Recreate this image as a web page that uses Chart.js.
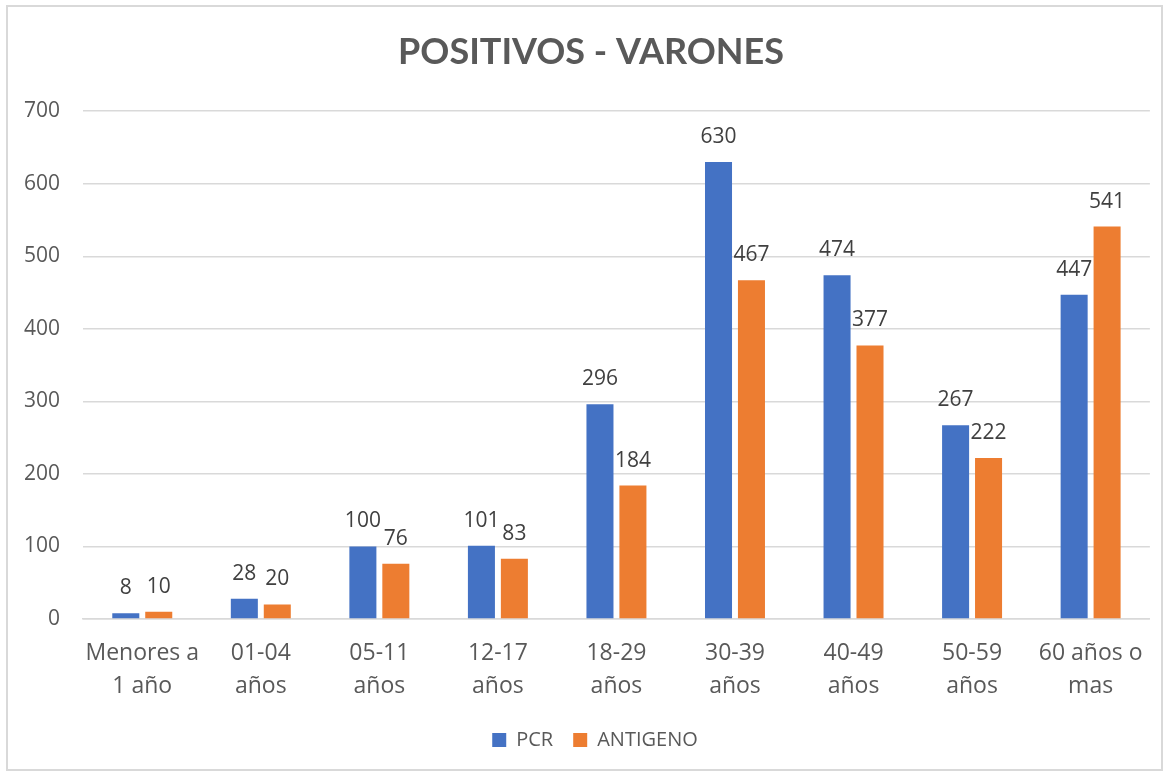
<!DOCTYPE html>
<html>
<head>
<meta charset="utf-8">
<script src="https://cdn.jsdelivr.net/npm/chart.js@4"></script>
<style>
  html, body { margin: 0; padding: 0; background: #fff; }
  #wrap { position: absolute; left: 6px; top: 5px; width: 1157px; height: 766px; box-sizing: border-box; border: 2px solid #d9d9d9; background: #fff; }
  canvas { display: block; }
</style>
</head>
<body>
<div id="wrap"><canvas id="c" width="1153" height="762"></canvas></div>
<script>
const categories = [["Menores a","1 año"],["01-04","años"],["05-11","años"],["12-17","años"],["18-29","años"],["30-39","años"],["40-49","años"],["50-59","años"],["60 años o","mas"]];
const pcrValues = [8, 28, 100, 101, 296, 630, 474, 267, 447];
const antigenoValues = [10, 20, 76, 83, 184, 467, 377, 222, 541];
const seriesNames = ["PCR", "ANTIGENO"];
const chartTitle = "POSITIVOS - VARONES";

const FONT = "'Open Sans', Lato, sans-serif";
const TITLE_FONT = "Lato, 'Open Sans', sans-serif";

const dataLabels = {
  id: 'dataLabels',
  afterDatasetsDraw(chart) {
    const ctx = chart.ctx;
    ctx.save();
    ctx.font = "21px " + FONT;
    ctx.fillStyle = "#404040";
    ctx.textAlign = "center";
    ctx.textBaseline = "middle";
    chart.data.datasets.forEach((ds, i) => {
      const meta = chart.getDatasetMeta(i);
      meta.data.forEach((bar, j) => {
        ctx.fillText(String(ds.data[j]), bar.x, bar.y - 25);
      });
    });
    ctx.restore();
  }
};

const shiftBlocks = {
  id: 'shiftBlocks',
  afterLayout(chart) {
    if (chart.legend) { chart.legend.left += 15; chart.legend.right += 15; }
    if (chart.titleBlock) { chart.titleBlock.left += 11; chart.titleBlock.right += 11; }
  }
};

new Chart(document.getElementById('c'), {
  type: 'bar',
  data: {
    labels: categories,
    datasets: [
      { label: seriesNames[0], data: pcrValues, backgroundColor: '#4472C4', categoryPercentage: 0.556, barPercentage: 0.82 },
      { label: seriesNames[1], data: antigenoValues, backgroundColor: '#ED7D31', categoryPercentage: 0.556, barPercentage: 0.82 }
    ]
  },
  options: {
    responsive: false,
    animation: false,
    layout: { padding: { left: 0, right: 9, top: 0, bottom: 9 } },
    plugins: {
      title: {
        display: true, text: chartTitle, color: '#595959',
        font: { family: TITLE_FONT, size: 36, weight: 'bold', lineHeight: 1.2 },
        padding: { top: 24, bottom: 37 }
      },
      legend: {
        position: 'bottom',
        labels: {
          color: '#595959', boxWidth: 14, boxHeight: 14, padding: 20,
          font: { family: FONT, size: 20 }
        }
      },
      tooltip: { enabled: false }
    },
    scales: {
      y: {
        min: 0, max: 700,
        ticks: { stepSize: 100, color: '#595959', font: { family: FONT, size: 21 }, padding: 23 },
        grid: { color: '#d9d9d9', lineWidth: 1.5, drawTicks: false },
        border: { display: false },
        afterFit(s) { s.width = 75; }
      },
      x: {
        ticks: { color: '#595959', font: { family: FONT, size: 23, lineHeight: 1.43 }, padding: 18, maxRotation: 0, autoSkip: false },
        grid: { display: false, drawTicks: false },
        border: { color: '#d9d9d9', width: 1.5 },
        afterFit(s) { s.height = 91; }
      }
    }
  },
  plugins: [dataLabels, shiftBlocks]
});
</script>
</body>
</html>
